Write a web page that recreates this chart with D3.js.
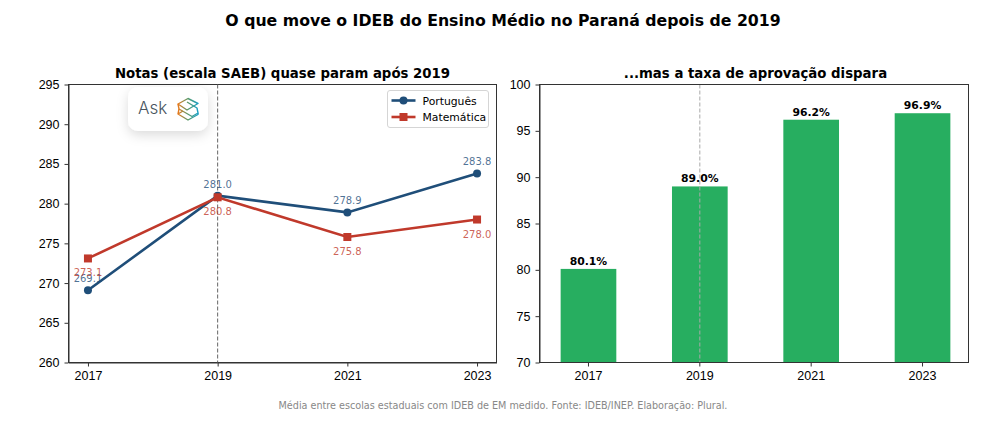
<!DOCTYPE html>
<html>
<head>
<meta charset="utf-8">
<script src="https://cdn.jsdelivr.net/npm/d3@7"></script>
<style>
body { margin: 0; background: #fff; }
svg { display: block; font-family: "DejaVu Sans", sans-serif; }
.axis text { font-size: 12.5px; fill: #000; }
.axis path, .axis line { stroke: #333; stroke-width: 1; }
</style>
</head>
<body>
<div id="chart"></div>
<script>
var years = [2017, 2019, 2021, 2023];
var portugues = [269.1, 281.0, 278.9, 283.8];
var matematica = [273.1, 280.8, 275.8, 278.0];
var aprovacao = [80.1, 89.0, 96.2, 96.9];
var leftTicks = [260, 265, 270, 275, 280, 285, 290, 295];
var rightTicks = [70, 75, 80, 85, 90, 95, 100];

var svgWidth = 1001;
var svgHeight = 428;
var blue = "#1f4e79";
var red = "#c0392b";
var green = "#27ae60";

var svg = d3.select("#chart")
    .append("svg")
    .attr("width", svgWidth)
    .attr("height", svgHeight);

var defs = svg.append("defs");
var shadow = defs.append("filter").attr("id", "soft")
    .attr("x", "-30%").attr("y", "-30%").attr("width", "160%").attr("height", "170%");
shadow.append("feDropShadow")
    .attr("dx", 0).attr("dy", 4).attr("stdDeviation", 6)
    .attr("flood-color", "#000").attr("flood-opacity", 0.14);
var logoGrad = defs.append("linearGradient").attr("id", "logoGrad")
    .attr("x1", "0").attr("y1", "0.5").attr("x2", "1").attr("y2", "0.5");
logoGrad.append("stop").attr("offset", "0").attr("stop-color", "#e8791c");
logoGrad.append("stop").attr("offset", "0.5").attr("stop-color", "#5a9a6a");
logoGrad.append("stop").attr("offset", "1").attr("stop-color", "#1a9fc4");

svg.append("text")
    .attr("x", 503).attr("y", 25.5)
    .attr("text-anchor", "middle")
    .attr("font-size", 15.73).attr("font-weight", "bold")
    .text("O que move o IDEB do Ensino Médio no Paraná depois de 2019");

// left panel
var plotTop = 84.5, plotBottom = 362.5;
var xLine = d3.scaleLinear().domain([2016.7, 2023.3]).range([68.5, 496.5]);
var yLine = d3.scaleLinear().domain([260, 295]).range([plotBottom, plotTop]);

var leftPanel = svg.append("g");
leftPanel.append("g").attr("class", "axis")
    .attr("transform", `translate(0,${plotBottom})`)
    .call(d3.axisBottom(xLine).tickValues(years).tickFormat(d3.format("d")).tickSize(4).tickPadding(5).tickSizeOuter(0));
leftPanel.append("g").attr("class", "axis")
    .attr("transform", "translate(68.5,0)")
    .call(d3.axisLeft(yLine).tickValues(leftTicks).tickSize(4).tickPadding(5).tickSizeOuter(0));
leftPanel.append("rect").attr("x", 68.5).attr("y", plotTop).attr("width", 428).attr("height", plotBottom - plotTop)
    .attr("fill", "none").attr("stroke", "#333");

leftPanel.append("line")
    .attr("x1", xLine(2019)).attr("x2", xLine(2019))
    .attr("y1", plotTop).attr("y2", plotBottom)
    .attr("stroke", "#666").attr("stroke-width", 1).attr("stroke-dasharray", "4 2");

var line = d3.line().x((d, i) => xLine(years[i])).y(d => yLine(d));

function drawSeries(values, color) {
    leftPanel.append("path")
        .attr("d", line(values))
        .attr("fill", "none").attr("stroke", color).attr("stroke-width", 2.6);
}
drawSeries(portugues, blue);
leftPanel.selectAll(".dot").data(portugues).enter().append("circle")
    .attr("class", "dot")
    .attr("cx", (d, i) => xLine(years[i]))
    .attr("cy", d => yLine(d))
    .attr("r", 4)
    .attr("fill", blue);
drawSeries(matematica, red);
leftPanel.selectAll(".sq").data(matematica).enter().append("rect")
    .attr("class", "sq")
    .attr("x", (d, i) => xLine(years[i]) - 4)
    .attr("y", d => yLine(d) - 4)
    .attr("width", 8).attr("height", 8)
    .attr("fill", red);

leftPanel.selectAll(".lblP").data(portugues).enter().append("text")
    .attr("class", "lblP")
    .attr("x", (d, i) => xLine(years[i]))
    .attr("y", d => yLine(d) - 8)
    .attr("text-anchor", "middle").attr("font-size", 10)
    .attr("fill", blue).attr("fill-opacity", 0.8)
    .text(d => d.toFixed(1));
leftPanel.selectAll(".lblM").data(matematica).enter().append("text")
    .attr("class", "lblM")
    .attr("x", (d, i) => xLine(years[i]))
    .attr("y", d => yLine(d) + 18)
    .attr("text-anchor", "middle").attr("font-size", 10)
    .attr("fill", red).attr("fill-opacity", 0.8)
    .text(d => d.toFixed(1));

leftPanel.append("text")
    .attr("x", 282.5).attr("y", 78)
    .attr("text-anchor", "middle").attr("font-size", 13.3).attr("font-weight", "bold")
    .text("Notas (escala SAEB) quase param após 2019");

// legend
var legend = leftPanel.append("g").attr("transform", "translate(387.5,90.5)");
legend.append("rect")
    .attr("width", 101).attr("height", 37).attr("rx", 2.5)
    .attr("fill", "#fff").attr("stroke", "#d5d5d5");
var legendItems = [
    { name: "Português", color: blue, shape: "circle" },
    { name: "Matemática", color: red, shape: "square" }
];
legendItems.forEach(function(item, i) {
    var y = 10 + i * 16.5;
    legend.append("line")
        .attr("x1", 4).attr("x2", 28).attr("y1", y).attr("y2", y)
        .attr("stroke", item.color).attr("stroke-width", 2.6);
    if (item.shape == "circle") {
        legend.append("circle").attr("cx", 16).attr("cy", y).attr("r", 4).attr("fill", item.color);
    } else {
        legend.append("rect").attr("x", 12).attr("y", y - 4).attr("width", 8).attr("height", 8).attr("fill", item.color);
    }
    legend.append("text")
        .attr("x", 35).attr("y", y + 4)
        .attr("font-size", 10.8).attr("fill", "#000")
        .text(item.name);
});

// right panel
var xBar = d3.scaleBand().domain(years).range([549.5, 961.5]).paddingInner(0.5).paddingOuter(0.1);
var yBar = d3.scaleLinear().domain([70, 100]).range([plotBottom, plotTop]);
var barLeft = 539.5, barRight = 968.5;

var rightPanel = svg.append("g");
rightPanel.selectAll(".bar").data(aprovacao).enter().append("rect")
    .attr("class", "bar")
    .attr("x", (d, i) => xBar(years[i]))
    .attr("y", d => yBar(d))
    .attr("width", xBar.bandwidth())
    .attr("height", d => plotBottom - yBar(d))
    .attr("fill", green);
rightPanel.append("line")
    .attr("x1", xBar(2019) + xBar.bandwidth() / 2).attr("x2", xBar(2019) + xBar.bandwidth() / 2)
    .attr("y1", plotTop).attr("y2", plotBottom)
    .attr("stroke", "#aaa").attr("stroke-width", 1).attr("stroke-dasharray", "4 2");
rightPanel.append("g").attr("class", "axis")
    .attr("transform", `translate(0,${plotBottom})`)
    .call(d3.axisBottom(xBar).tickFormat(d3.format("d")).tickSize(4).tickPadding(5).tickSizeOuter(0))
    .select(".domain").remove();
rightPanel.append("g").attr("class", "axis")
    .attr("transform", `translate(${barLeft},0)`)
    .call(d3.axisLeft(yBar).tickValues(rightTicks).tickSize(4).tickPadding(5).tickSizeOuter(0));
rightPanel.append("rect").attr("x", barLeft).attr("y", plotTop).attr("width", barRight - barLeft).attr("height", plotBottom - plotTop)
    .attr("fill", "none").attr("stroke", "#333");
rightPanel.selectAll(".lblB").data(aprovacao).enter().append("text")
    .attr("class", "lblB")
    .attr("x", (d, i) => xBar(years[i]) + xBar.bandwidth() / 2)
    .attr("y", d => yBar(d) - 4)
    .attr("text-anchor", "middle").attr("font-size", 10.8).attr("font-weight", "bold")
    .text(d => d.toFixed(1) + "%");
rightPanel.append("text")
    .attr("x", 755.5).attr("y", 78)
    .attr("text-anchor", "middle").attr("font-size", 13.3).attr("font-weight", "bold")
    .text("...mas a taxa de aprovação dispara");

svg.append("text")
    .attr("x", 503).attr("y", 409)
    .attr("text-anchor", "middle").attr("font-size", 9.63).attr("fill", "#888")
    .text("Média entre escolas estaduais com IDEB de EM medido. Fonte: IDEB/INEP. Elaboração: Plural.");

// Ask badge on top of the chart
var badge = svg.append("g").attr("transform", "translate(128,87)");
badge.append("rect")
    .attr("width", 80).attr("height", 44).attr("rx", 10)
    .attr("fill", "#fff").attr("filter", "url(#soft)");
badge.append("text")
    .attr("x", 10).attr("y", 27)
    .attr("font-family", "Inter, sans-serif").attr("font-weight", 300).attr("font-size", 17).attr("fill", "#4a5560")
    .text("Ask");
var logo = badge.append("g").attr("fill", "none").attr("stroke", "url(#logoGrad)")
    .attr("stroke-width", 1.4).attr("stroke-linejoin", "round");
logo.append("path").attr("d", "M50 17 L60 11.5 L70 16.5 L59 23 Z");
logo.append("path").attr("d", "M50 17 L51 22 L64 29.5 L70 26 L69 21 L59 15");
logo.append("path").attr("d", "M51 22 L50 27 L60 33 L70 27.5 L70 26 M50 27 L55 24");
</script>
</body>
</html>
